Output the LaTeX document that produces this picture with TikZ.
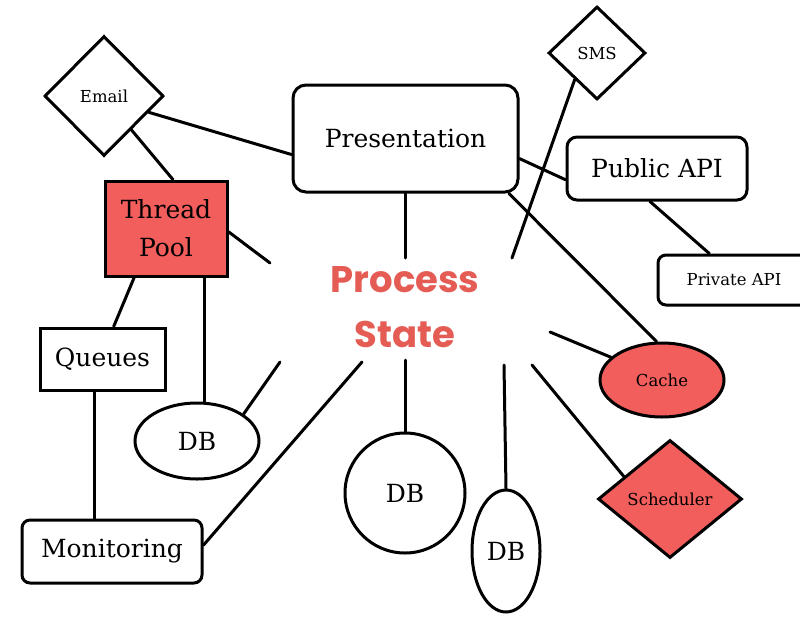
\documentclass[tikz,border=0pt]{standalone}
\usepackage{fontspec}
\setmainfont{DejaVu Serif}
\usetikzlibrary{shapes.geometric}
\newfontfamily\statefont{Poppins}
\definecolor{boxred}{RGB}{242,94,92}
\definecolor{statered}{RGB}{228,92,84}

\begin{document}
\begin{tikzpicture}[x=1pt, y=-1pt,
		line/.style={line width=3pt, line cap=round},
		box/.style={draw, line width=3pt, inner sep=0pt, font=\fontsize{25}{38}\selectfont},
		roundbox/.style={box, rounded corners=10pt},
		small/.style={font=\fontsize{16.5}{20}\selectfont},
		diam/.style={box, small, diamond},
		oval/.style={box, ellipse},
		hot/.style={fill=boxred}]
			%%%%% START %%%%%
			
			\useasboundingbox (0, 0) rectangle (800, 616);
			
			\node[roundbox, rounded corners=13pt, minimum width=225, minimum height=107] (pres) at (405.5, 138.5) {Presentation};
			\node[diam, minimum width=119, minimum height=120] (email) at (104, 96) {Email};
			\node[diam, minimum width=97, minimum height=93] (sms) at (597, 53) {SMS};
			\node[roundbox, minimum width=180, minimum height=63] (pub) at (657, 168.5) {Public API};
			\node[roundbox, small, rounded corners=8pt, minimum width=152, minimum height=50] (priv) at (734, 280) {Private API};
			
			\node[box, hot, align=center, minimum width=122, minimum height=95] (tp) at (166, 228.5) {Thread\\Pool};
			\node[box, minimum width=125, minimum height=62] (queues) at (102.5, 359) {Queues};
			\node[roundbox, rounded corners=8pt, minimum width=180, minimum height=63] (mon) at (112, 551.5) {Monitoring};
			
			\node[oval, minimum width=124, minimum height=76] (dbl) at (197, 441) {DB};
			\node[box, circle, minimum size=120] (dbc) at (405, 493) {DB};
			\node[oval, minimum width=68, minimum height=122] (dbt) at (506, 551) {DB};
			
			\node[oval, hot, small, minimum width=124, minimum height=74] (cache) at (662, 380) {Cache};
			\node[diam, hot, minimum width=144, minimum height=118] (sched) at (670, 499) {Scheduler};
			
			\node[text=statered, align=center, font=\statefont\bfseries\fontsize{37}{55}\selectfont] (state) at (405, 307) {Process\\State};
			
			% loose ends round the state
			\coordinate (tp-end) at (270, 263);
			\coordinate (dbl-end) at (280, 362);
			\coordinate (mon-end) at (362, 362);
			\coordinate (pres-end) at (405.5, 258);
			\coordinate (sms-end) at (512, 258);
			\coordinate (cache-end) at (550, 332);
			\coordinate (sched-end) at (532, 365);
			\coordinate (dbc-end) at (405, 360);
			\coordinate (dbt-end) at (504, 365);
			
			\draw[line] (email.-20) -- (pres.188);
			\draw[line] (email.-51) -- (tp.82);
			\draw[line] (tp.-3) -- (tp-end);
			\draw[line] (tp.-123) -- (queues.71);
			\draw[line] (tp.-52) -- (tp.-52 |- dbl.north);
			\draw[line] (dbl.30) -- (dbl-end);
			\draw[line] (queues.-104) -- (queues.-104 |- mon.north);
			\draw[line] (mon.4) -- (mon-end);
			
			\draw[line] (pres.south) -- (pres-end);
			\draw[line] (sms.-130) -- (sms-end);
			\draw[line] (pres.-10) -- (pub.-173);
			\draw[line] (pres.-28) -- (cache.98);
			\draw[line] (pub.-102) -- (priv.133);
			
			\draw[line] (cache-end) -- (cache.156);
			\draw[line] (sched-end) -- (sched.154);
			\draw[line] (dbc-end) -- (dbc.north);
			\draw[line] (dbt-end) -- (dbt.north);
			
			%%%%% END %%%%%
		\end{tikzpicture}
\end{document}
